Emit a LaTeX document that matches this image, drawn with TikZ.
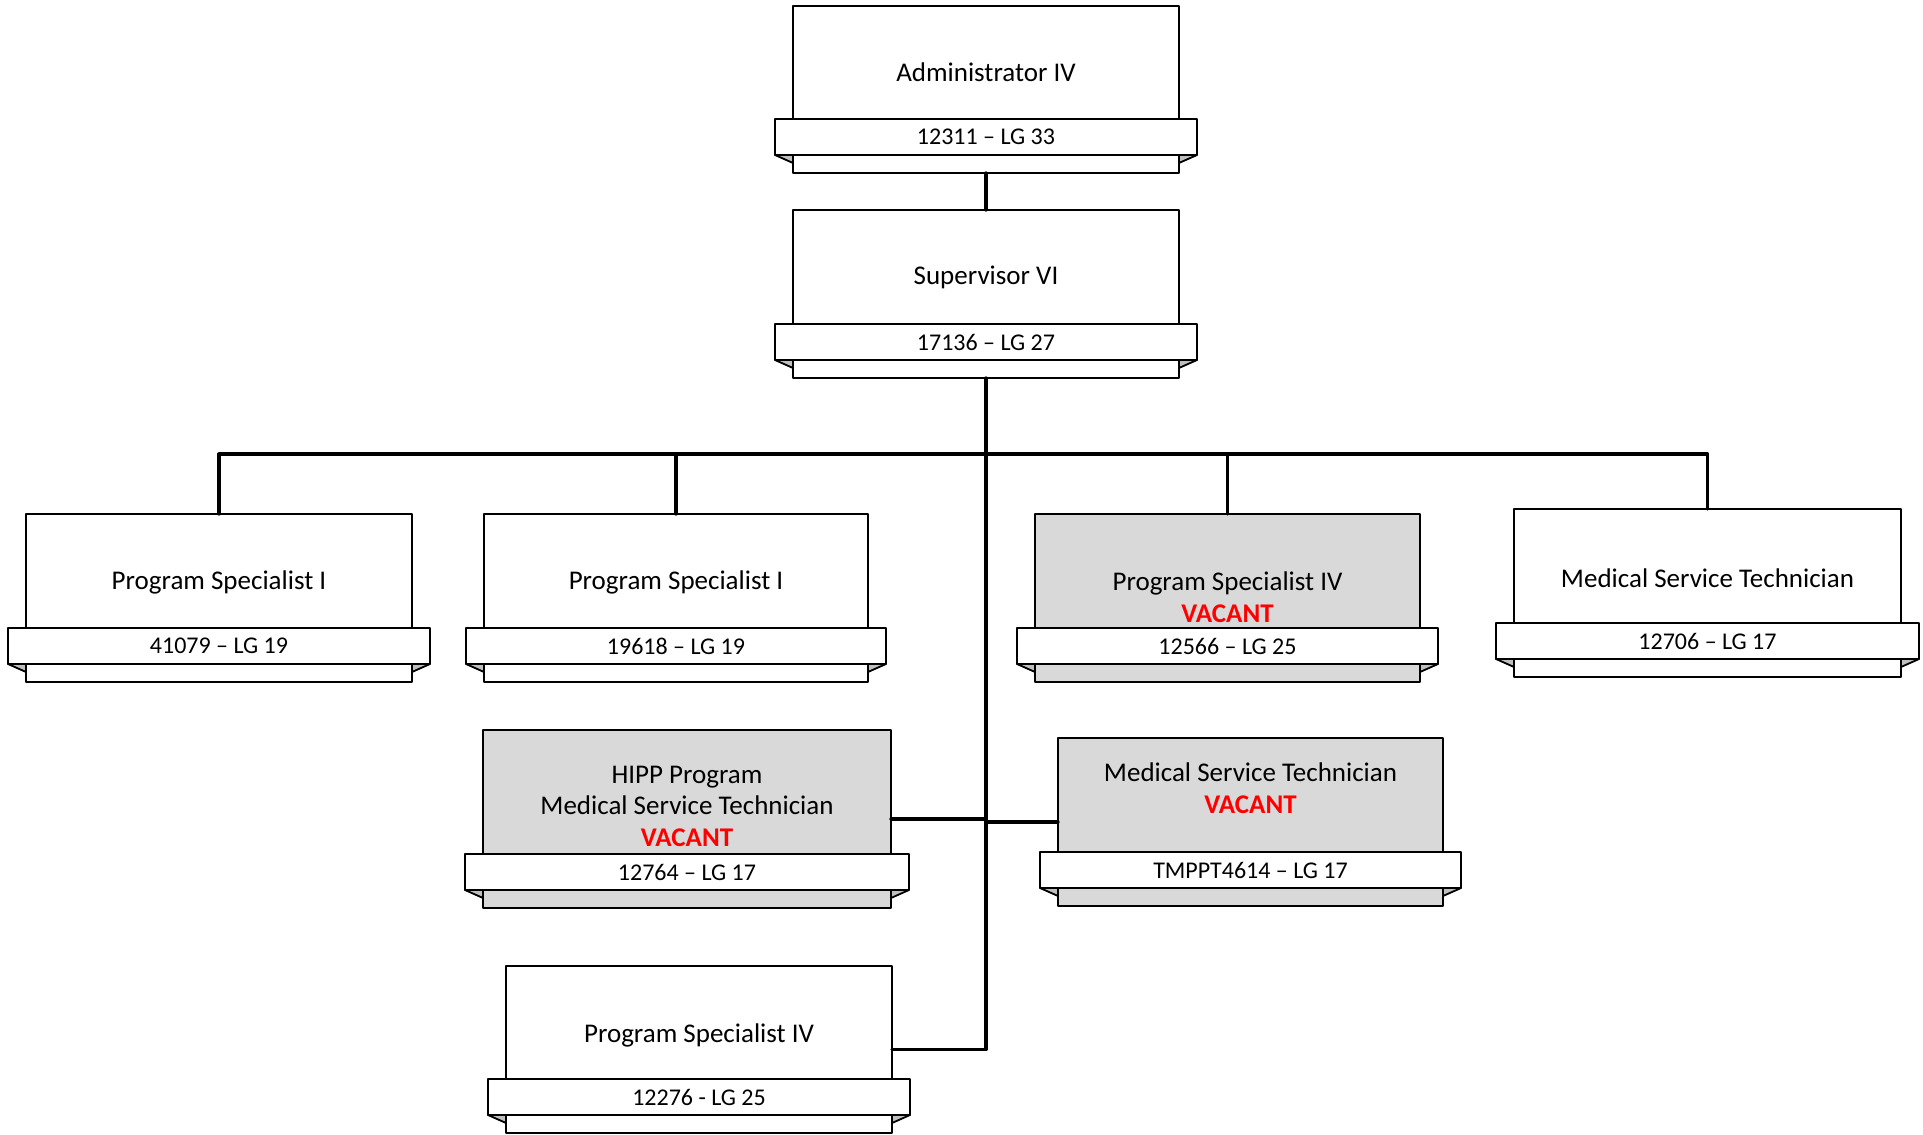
\documentclass[tikz,border=0pt]{standalone}
\usepackage{fontspec}
\setmainfont{Carlito}
\usetikzlibrary{fit}
\definecolor{vacantgray}{HTML}{D9D9D9}
\definecolor{foldgray}{HTML}{BFBFBF}
\definecolor{vacantred}{HTML}{FF0000}

\newcommand{\vacant}{\textbf{\color{vacantred}VACANT}}
% one position: name, left, right, top, banner top, fill, title y, title, code
\newcommand{\post}[9]{%
  \node[card, fill=#6, fit={(#2,#4) (#3,#5+54)}] (#1) {};
  \draw[fold] (#2-18,#5+36) -- (#2,#5+44) -- (#2,#5+36) -- cycle;
  \draw[fold] (#3+18,#5+36) -- (#3,#5+44) -- (#3,#5+36) -- cycle;
  \node[banner, fit={(#2-18,#5) (#3+18,#5+36)}] (#1-band) {};
  \node[code] (#1-code) at (#1-band.center) {#9};
  \node[title] (#1-title) at ({(#2+#3)/2},#7) {#8};
}

\begin{document}
\begin{tikzpicture}[line cap=round,line join=round,x=0.5pt,y=-0.5pt,
    card/.style={draw, line width=1.2pt, inner sep=0pt, outer sep=0pt},
    banner/.style={draw, fill=white, line width=1.2pt, inner sep=0pt, outer sep=0pt},
    code/.style={inner sep=0pt, font=\fontsize{12}{14}\selectfont},
    fold/.style={draw, fill=foldgray, line width=0.9pt},
    title/.style={align=center, font=\fontsize{13.5}{15.75}\selectfont},
    link/.style={line width=1.6pt}]
    \useasboundingbox (0,0) rectangle (1923,1135);

    \post{admin}{793}{1179}{6}{119}{white}{72}{Administrator IV}{12311 – LG 33}
    \post{super}{793}{1179}{210}{324}{white}{277}{Supervisor VI}{17136 – LG 27}

    \post{specA}{26}{412}{514}{628}{white}{582}{Program Specialist I}{41079 – LG 19}
    \post{specB}{484}{868}{514}{628}{white}{582}{Program Specialist I}{19618 – LG 19}
    \post{specC}{1035}{1420}{514}{628}{vacantgray}{597}{Program Specialist IV\\\vacant}{12566 – LG 25}
    \post{techA}{1514}{1901}{509}{623}{white}{578}{Medical Service Technician}{12706 – LG 17}

    \post{hipp}{483}{891}{730}{854}{vacantgray}{806}{HIPP Program\\Medical Service Technician\\\vacant}{12764 – LG 17}
    \post{techB}{1058}{1443}{738}{852}{vacantgray}{788}{Medical Service Technician\\\vacant}{TMPPT4614 – LG 17}
    \post{specD}{506}{892}{966}{1079}{white}{1035}{Program Specialist IV}{12276 - LG 25}

    \coordinate (bus) at (986,454);
    \draw[link] (admin.south) -- (super.north);
    \draw[link] (super.south) |- (specD.east);
    \draw[link] (specA.north) |- (bus) -| (techA.north);
    \draw[link] (specB.north) -- (specB.north |- bus);
    \draw[link] (specC.north) -- (specC.north |- bus);
    \draw[link] (hipp.east) -- (hipp.east -| super.south);
    \draw[link] (techB.west) -- (techB.west -| super.south);
\end{tikzpicture}
\end{document}
